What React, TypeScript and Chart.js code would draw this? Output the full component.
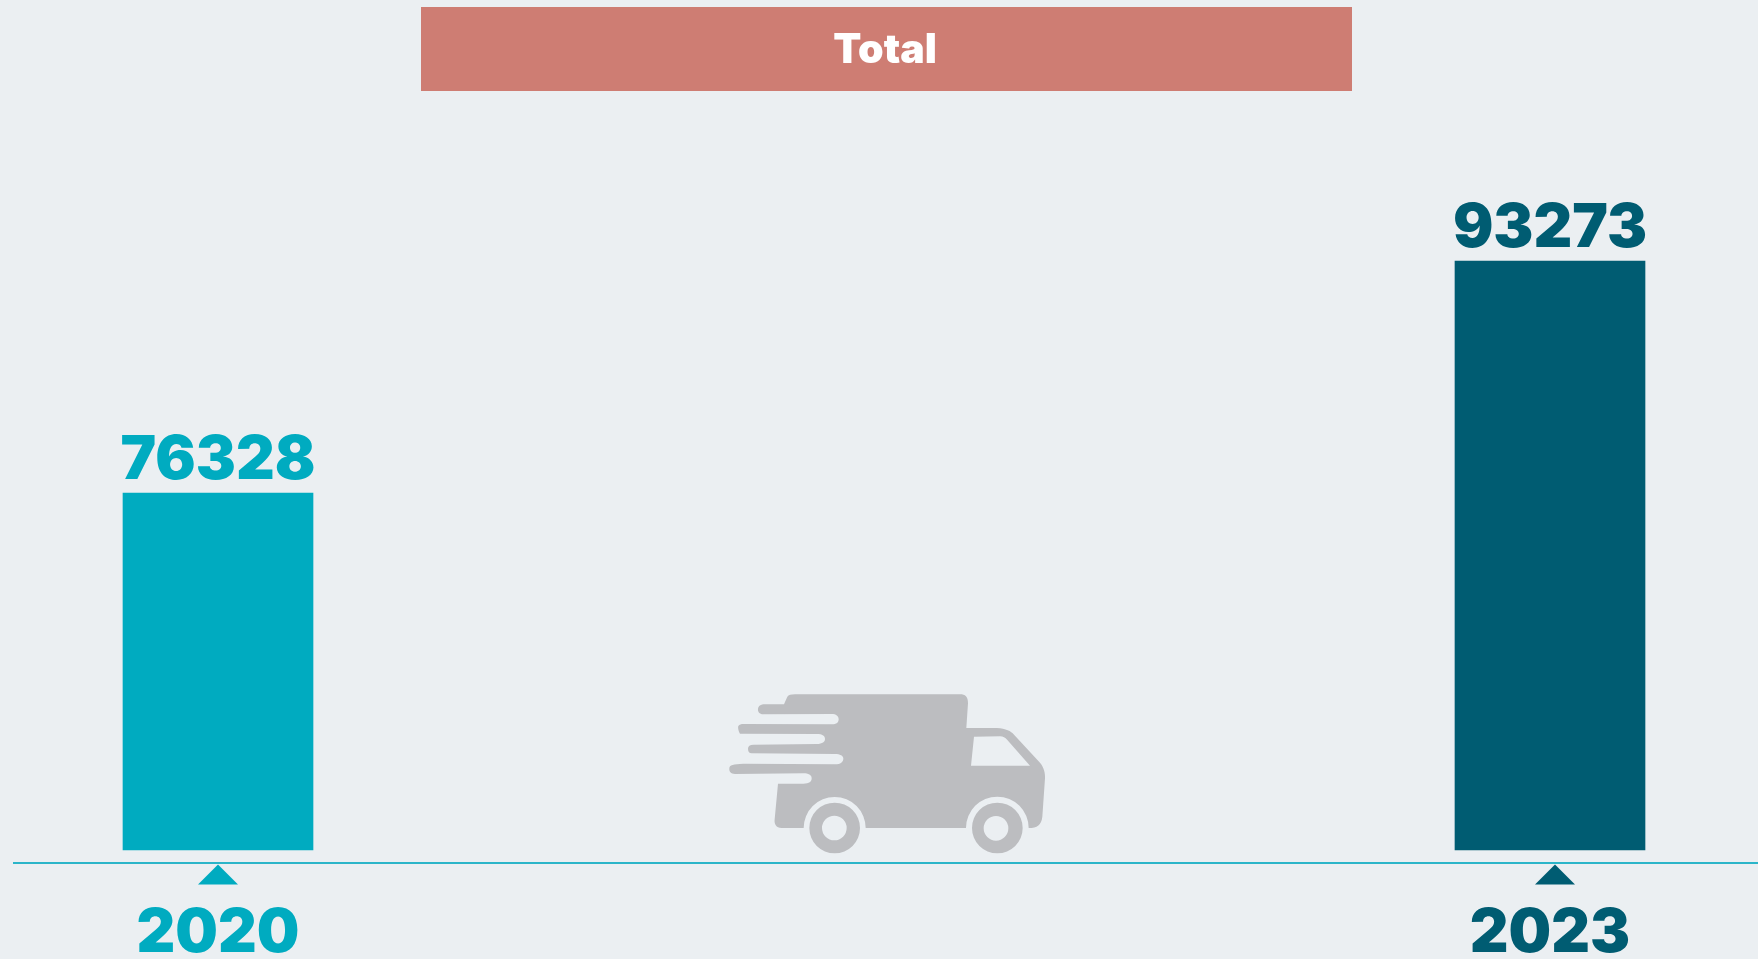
import React, { useEffect, useRef } from "react";
import { Chart, registerables } from "chart.js";

Chart.register(...registerables);

const categories = ["2020", "2023"];
const totals = [76328, 93273];
const barColors = ["#00ABC0", "#005C72"];
const chartTitle = "Total";
const axisMin = 50250;
const axisMax = 112340;

const FONT = '"Inter", "Noto Sans", sans-serif';
const BG = "#EBEFF2";

const truckPath = new Path2D(
  "M262 80C266 75 272 73 285 73L780 73C796 73 804 80 804 100L799 174L880 174C910 174 928 180 938 190L1020 278C1032 292 1036 310 1035 325L1027 440C1024 465 1012 474 986 474" +
    "A94 94 0 0 0 798 474L497 474A93 93 0 0 0 311 474L245 474C228 474 222 462 224 448L234 341L310 341C328 341 335 335 335 325C335 315 325 310 310 310L105 312C92 312 87 305 88 295C88 285 100 282 130 281" +
    "L405 283C422 283 430 275 430 266C430 257 420 252 405 252L155 250C148 250 144 245 144 236C144 228 150 224 160 224L350 222C368 222 375 215 375 207C375 198 368 192 350 192L120 191C116 185 113 172 115 168C118 164 124 162 130 162" +
    "L395 163C410 163 416 157 416 148C416 138 408 132 395 132L190 133C178 133 173 125 174 117C175 108 182 103 195 103L252 103Z" +
    "M822 200L900 199C910 199 915 203 922 210L990 287L813 287Z" +
    "M328 474A76 76 0 1 0 480 474A76 76 0 1 0 328 474Z" +
    "M366 474A37 37 0 1 0 440 474A37 37 0 1 0 366 474Z" +
    "M816 474A76 76 0 1 0 968 474A76 76 0 1 0 816 474Z" +
    "M851 475A37 37 0 1 0 925 475A37 37 0 1 0 851 475Z"
);

const decorations = {
  id: "decorations",
  beforeDatasetsDraw(chart: any) {
    const { ctx, scales } = chart;
    const x = scales.x;
    ctx.save();

    // banner with title
    ctx.fillStyle = "#CE7D73";
    ctx.fillRect(421, 7, 931, 84);
    ctx.fillStyle = "#FFFFFF";
    ctx.font = `900 41px ${FONT}`;
    ctx.textAlign = "center";
    ctx.textBaseline = "alphabetic";
    ctx.fillText(chartTitle, 885, 63);

    // truck
    ctx.translate(700, 670);
    ctx.scale(1 / 3, 1 / 3);
    ctx.fillStyle = "#BCBDC0";
    ctx.fill(truckPath, "evenodd");
    ctx.setTransform(1, 0, 0, 1, 0, 0);

    // base line
    ctx.strokeStyle = "#2BB5C9";
    ctx.lineWidth = 2;
    ctx.beginPath();
    ctx.moveTo(13, 863);
    ctx.lineTo(chart.width, 863);
    ctx.stroke();

    // markers under the line
    categories.forEach((_, i) => {
      const cx = x.getPixelForValue(i) + (i === 1 ? 5 : 0);
      ctx.fillStyle = barColors[i];
      ctx.beginPath();
      ctx.moveTo(cx, 864.5);
      ctx.lineTo(cx + 20, 884.5);
      ctx.lineTo(cx - 20, 884.5);
      ctx.closePath();
      ctx.fill();
    });
    ctx.restore();
  },
  afterDatasetsDraw(chart: any) {
    const { ctx } = chart;
    const meta = chart.getDatasetMeta(0);
    ctx.save();
    ctx.font = `900 60px ${FONT}`;
    ctx.textAlign = "center";
    ctx.textBaseline = "alphabetic";
    meta.data.forEach((bar: any, i: number) => {
      ctx.fillStyle = barColors[i];
      ctx.fillText(String(totals[i]), bar.x, bar.y - 14);
    });
    ctx.restore();
  },
};

export default function App() {
  const ref = useRef<HTMLCanvasElement>(null);
  useEffect(() => {
    const chart = new Chart(ref.current as HTMLCanvasElement, {
      type: "bar",
      data: {
        labels: categories,
        datasets: [
          {
            data: totals,
            base: axisMin,
            backgroundColor: barColors,
            borderWidth: 0,
            barThickness: 190,
            clip: false as any,
          },
        ],
      },
      plugins: [decorations],
      options: {
        animation: false,
        responsive: false,
        layout: { padding: { left: 218, right: 208, top: 0, bottom: 0 } },
        plugins: {
          legend: { display: false },
          title: { display: false },
          tooltip: { enabled: false },
        },
        scales: {
          y: { display: false, min: axisMin, max: axisMax },
          x: {
            type: "category",
            offset: false,
            grid: { display: false },
            border: { display: false },
            afterFit(scale: any) {
              scale.height = 109;
            },
            ticks: {
              autoSkip: false,
              maxRotation: 0,
              padding: 40,
              font: { family: FONT, size: 60, weight: "900" as any },
              color: barColors,
            },
          },
        },
      },
    });
    return () => chart.destroy();
  }, []);
  return (
    <div style={{ position: "fixed", inset: 0, background: BG, overflow: "hidden" }}>
      <canvas ref={ref} width={1758} height={959} style={{ display: "block" }} />
    </div>
  );
}
